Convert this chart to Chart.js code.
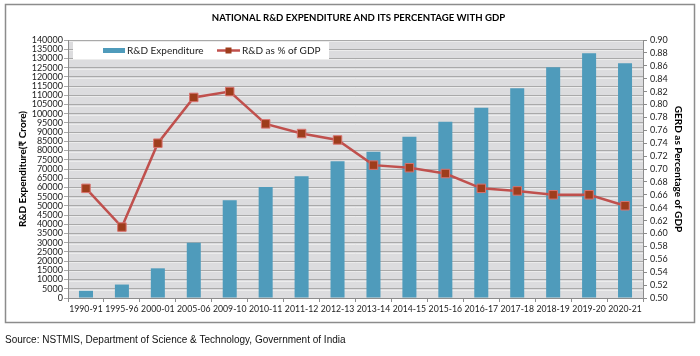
<!DOCTYPE html>
<html><head><meta charset="utf-8">
<script src="https://cdn.jsdelivr.net/npm/chart.js@4.4.0/dist/chart.umd.min.js"></script>
<style>html,body{margin:0;padding:0;background:#fff;}#wrap{width:700px;height:356px;}</style>
</head><body><div id="wrap"><canvas id="c" width="700" height="356"></canvas></div>
<script>
const categories = ['1990-91','1995-96','2000-01','2005-06','2009-10','2010-11','2011-12','2012-13','2013-14','2014-15','2015-16','2016-17','2017-18','2018-19','2019-20','2020-21'];
const expenditure = [3900, 7300, 16100, 30000, 53000, 60300, 66000, 74200, 79400, 87500, 95700, 103300, 113800, 125200, 132800, 127400];
const gdpShare = [0.670, 0.610, 0.740, 0.811, 0.820, 0.770, 0.755, 0.745, 0.706, 0.702, 0.693, 0.670, 0.666, 0.660, 0.660, 0.643];
const titleText = 'NATIONAL R&D EXPENDITURE AND ITS PERCENTAGE WITH GDP';
const sourceText = 'Source: NSTMIS, Department of Science & Technology, Government of India';
const seriesNames = ['R&D Expenditure', 'R&D as % of GDP'];
const axisTitles = ['R&D Expenditure(\u20B9 Crore)', 'GERD as Percentage of GDP'];

const BAR = '#4f9bbb', LINE = '#c0504d', MFILL = '#9e3d1c', MBORDER = '#d9736f';
const tickFont = {family: 'Lato', size: 9};
const xFont = {family: 'Lato', size: 8.7};

const decor = {
  id: 'decor',
  beforeDraw(chart) {
    const {ctx, chartArea: a} = chart;
    ctx.save();
    ctx.fillStyle = '#fff';
    ctx.fillRect(0, 0, chart.width, chart.height);
    ctx.fillStyle = '#dcdcde';
    ctx.fillRect(a.left, a.top, a.right - a.left, a.bottom - a.top);
    const y = chart.scales.y;
    ctx.strokeStyle = '#ececec';
    ctx.lineWidth = 1;
    y.ticks.forEach(t => {
      const py = Math.round(y.getPixelForValue(t.value)) + 1.5;
      if (py < a.bottom) { ctx.beginPath(); ctx.moveTo(a.left, py); ctx.lineTo(a.right, py); ctx.stroke(); }
    });
    ctx.restore();
  },
  beforeDatasetsDraw(chart) {
    const {ctx, chartArea: a} = chart;
    ctx.save();
    const bx = a.left + 5, by = a.top + 2;
    ctx.fillStyle = '#fff';
    ctx.fillRect(bx, by, 256, 17);
    const cy = by + 8.5;
    ctx.fillStyle = BAR;
    ctx.fillRect(bx + 30, cy - 2.5, 22, 5);
    ctx.font = '10px Lato';
    ctx.fillStyle = '#222';
    ctx.textBaseline = 'middle';
    ctx.textAlign = 'left';
    ctx.fillText(seriesNames[0], bx + 54, cy);
    ctx.strokeStyle = LINE; ctx.lineWidth = 2.5;
    ctx.beginPath(); ctx.moveTo(bx + 144, cy); ctx.lineTo(bx + 167, cy); ctx.stroke();
    ctx.fillStyle = MFILL; ctx.fillRect(bx + 152.5, cy - 3, 6, 6);
    ctx.fillStyle = '#222';
    ctx.fillText(seriesNames[1], bx + 169, cy);
    ctx.restore();
  },
  afterDraw(chart) {
    const {ctx} = chart;
    ctx.save();
    ctx.strokeStyle = '#8c8c8c'; ctx.lineWidth = 1.5;
    ctx.strokeRect(5.5, 4.5, 689, 318);
    ctx.fillStyle = '#000';
    ctx.textBaseline = 'middle';
    ctx.textAlign = 'center';
    ctx.font = 'bold 9.6px Lato';
    ctx.fillText(titleText, 358.5, 18);
    ctx.textAlign = 'left';
    ctx.font = '10px "Liberation Sans"';
    ctx.fillStyle = '#111';
    ctx.fillText(sourceText, 5, 340);
    ctx.restore();
  }
};

new Chart(document.getElementById('c'), {
  data: {
    labels: categories,
    datasets: [
      {type: 'line', label: seriesNames[1], data: gdpShare, yAxisID: 'y1', order: 1,
       borderColor: LINE, borderWidth: 2.5, tension: 0, pointStyle: 'rect', pointRadius: 6,
       pointBackgroundColor: MFILL, pointBorderColor: MBORDER, pointBorderWidth: 1},
      {type: 'bar', label: seriesNames[0], data: expenditure, yAxisID: 'y', order: 2,
       backgroundColor: BAR, borderWidth: 0, barPercentage: 0.39, categoryPercentage: 1.0}
    ]
  },
  options: {
    responsive: false, animation: false, devicePixelRatio: 1,
    layout: {padding: {left: 6, right: 6, top: 40, bottom: 38}},
    plugins: {legend: {display: false}, title: {display: false}, tooltip: {enabled: false}},
    scales: {
      x: {
        grid: {drawOnChartArea: false, offset: true, tickLength: 4, color: '#8c8c8c'},
        border: {color: '#8c8c8c'},
        ticks: {autoSkip: false, maxRotation: 0, minRotation: 0, padding: 2, font: xFont, color: '#222'},
        afterFit(s) { s.height = 20; }
      },
      y: {
        position: 'left', min: 0, max: 140000,
        ticks: {stepSize: 5000, maxTicksLimit: 100, autoSkip: false, padding: 1, font: tickFont, color: '#222', callback: v => String(v)},
        grid: {color: '#a9a9a9', tickLength: 4},
        border: {color: '#8c8c8c'},
        title: {display: true, text: axisTitles[0], color: '#000', font: {family: 'Lato', size: 10, weight: 'bold'}, padding: {top: 11, bottom: 0}},
        afterFit(s) { s.width = 62; }
      },
      y1: {
        position: 'right', min: 0.5, max: 0.9,
        ticks: {stepSize: 0.02, maxTicksLimit: 100, autoSkip: false, padding: 3, font: tickFont, color: '#222', callback: v => Number(v).toFixed(2)},
        grid: {drawOnChartArea: false, tickLength: 4, color: '#8c8c8c'},
        border: {color: '#8c8c8c'},
        title: {display: true, text: axisTitles[1], color: '#000', font: {family: 'Lato', size: 10, weight: 'bold'}, padding: {top: 9.5, bottom: 0}},
        afterFit(s) { s.width = 51; }
      }
    }
  },
  plugins: [decor]
});
</script></body></html>
